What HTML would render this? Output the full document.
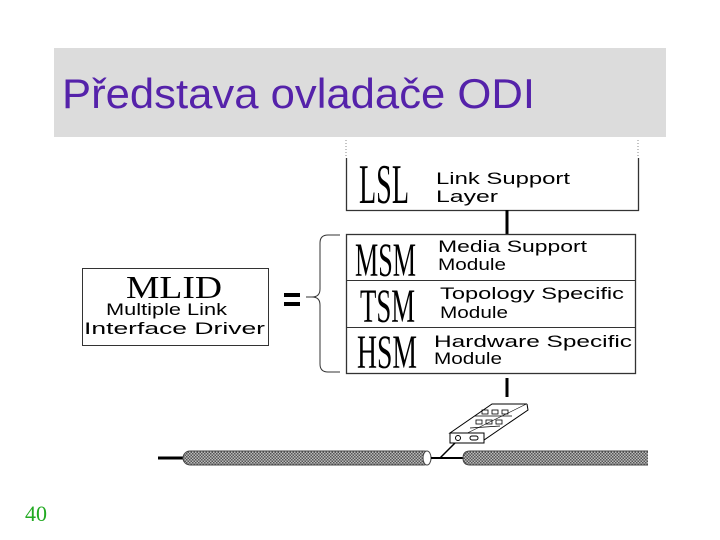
<!DOCTYPE html>
<html><head><meta charset="utf-8"><style>
body{margin:0;background:#fff;width:720px;height:540px;overflow:hidden;position:relative}
.t{position:absolute;left:54px;top:48px;width:612px;height:89px;background:#dcdcdc}
</style></head><body>
<div class="t"></div>
<svg width="720" height="540" style="position:absolute;left:0;top:0">
<defs><pattern id="h" width="3" height="3" patternUnits="userSpaceOnUse"><rect width="3" height="3" fill="#bbb"/><rect width="1.5" height="1.5" fill="#555"/><rect x="1.5" y="1.5" width="1.5" height="1.5" fill="#555"/></pattern></defs>
<text x="62" y="108" font-family="Liberation Sans,sans-serif" font-size="42" fill="#5522aa" textLength="473" lengthAdjust="spacingAndGlyphs">Představa ovladače ODI</text>
<g stroke="#888" stroke-dasharray="1,2"><line x1="346" y1="140" x2="346" y2="158"/><line x1="638" y1="140" x2="638" y2="158"/></g>
<path d="M346.5 158 V210.5 H638.5 V158" fill="none" stroke="#333" stroke-width="1.3"/>
<line x1="507" y1="210" x2="507" y2="234" stroke="#000" stroke-width="3"/>
<rect x="346.5" y="234.5" width="289" height="139" fill="none" stroke="#333" stroke-width="1.3"/>
<line x1="346" y1="280.5" x2="635" y2="280.5" stroke="#333"/>
<line x1="346" y1="327.5" x2="635" y2="327.5" stroke="#333"/>
<path d="M340 235 H328 Q320 235 320 243 V289 Q320 297 312 297 H306 M312 297 Q320 297 320 305 V364 Q320 372 328 372 H340" fill="none" stroke="#333"/>
<rect x="284" y="293" width="16" height="4" fill="#000"/><rect x="284" y="302" width="16" height="4" fill="#000"/>
<rect x="82.5" y="268.5" width="186" height="77" fill="none" stroke="#333"/>
<line x1="507" y1="378" x2="507" y2="397" stroke="#000" stroke-width="3"/>
<line x1="158" y1="458" x2="183" y2="458" stroke="#000" stroke-width="3"/>
<rect x="183" y="451" width="248" height="14" rx="7" fill="url(#h)" stroke="#444"/>
<ellipse cx="427" cy="458" rx="4" ry="7" fill="#fff" stroke="#444"/>
<line x1="431" y1="458" x2="463" y2="458" stroke="#000" stroke-width="2"/>
<line x1="440" y1="458" x2="458" y2="440" stroke="#000" stroke-width="1.5"/>
<path d="M648 451 H470 Q463 451 463 458 Q463 465 470 465 H648" fill="url(#h)" stroke="#444"/>
<path d="M450 433 H468 L527 404 H492 Z" fill="#fff" stroke="#000"/>
<path d="M468 433 L484 440 L528 410 L527 404" fill="#fff" stroke="#000"/>
<rect x="450" y="433" width="34" height="10" fill="#fff" stroke="#000"/>
<circle cx="458" cy="438" r="2.5" fill="none" stroke="#000"/>
<rect x="470" y="436" width="8" height="4" rx="2" fill="none" stroke="#000"/>
<g stroke="#000" stroke-width="0.8" fill="none"><rect x="482" y="410" width="6" height="4"/><rect x="492" y="410" width="6" height="4"/><rect x="502" y="410" width="6" height="4"/><rect x="476" y="420" width="6" height="4"/><rect x="486" y="420" width="6" height="4"/><rect x="496" y="420" width="6" height="4"/><line x1="470" y1="428" x2="500" y2="426"/><line x1="475" y1="416" x2="512" y2="416"/></g>
<g font-family="Liberation Serif,serif" fill="#000">
<text x="359" y="203" font-size="56" textLength="50" lengthAdjust="spacingAndGlyphs">LSL</text>
<text x="355" y="276" font-size="48" textLength="61" lengthAdjust="spacingAndGlyphs">MSM</text>
<text x="360" y="322" font-size="48" textLength="55" lengthAdjust="spacingAndGlyphs">TSM</text>
<text x="357" y="368" font-size="48" textLength="60" lengthAdjust="spacingAndGlyphs">HSM</text>
<text x="126" y="298" font-size="32" textLength="96" lengthAdjust="spacingAndGlyphs">MLID</text>
</g>
<g font-family="Liberation Sans,sans-serif" font-size="17" fill="#000">
<text x="436" y="184" textLength="134" lengthAdjust="spacingAndGlyphs">Link Support</text><text x="436" y="202" textLength="62" lengthAdjust="spacingAndGlyphs">Layer</text>
<text x="438" y="252" textLength="149" lengthAdjust="spacingAndGlyphs">Media Support</text><text x="438" y="270" textLength="68" lengthAdjust="spacingAndGlyphs">Module</text>
<text x="440" y="299" textLength="184" lengthAdjust="spacingAndGlyphs">Topology Specific</text><text x="440" y="318" textLength="68" lengthAdjust="spacingAndGlyphs">Module</text>
<text x="434" y="347" textLength="198" lengthAdjust="spacingAndGlyphs">Hardware Specific</text><text x="434" y="364" textLength="68" lengthAdjust="spacingAndGlyphs">Module</text>
<text x="106" y="315" textLength="121" lengthAdjust="spacingAndGlyphs">Multiple Link</text>
<text x="84" y="334" textLength="181" lengthAdjust="spacingAndGlyphs">Interface Driver</text>
</g>
<text x="25" y="521" font-family="Liberation Serif,serif" font-size="22" fill="#22aa22">40</text>
</svg>
</body></html>
